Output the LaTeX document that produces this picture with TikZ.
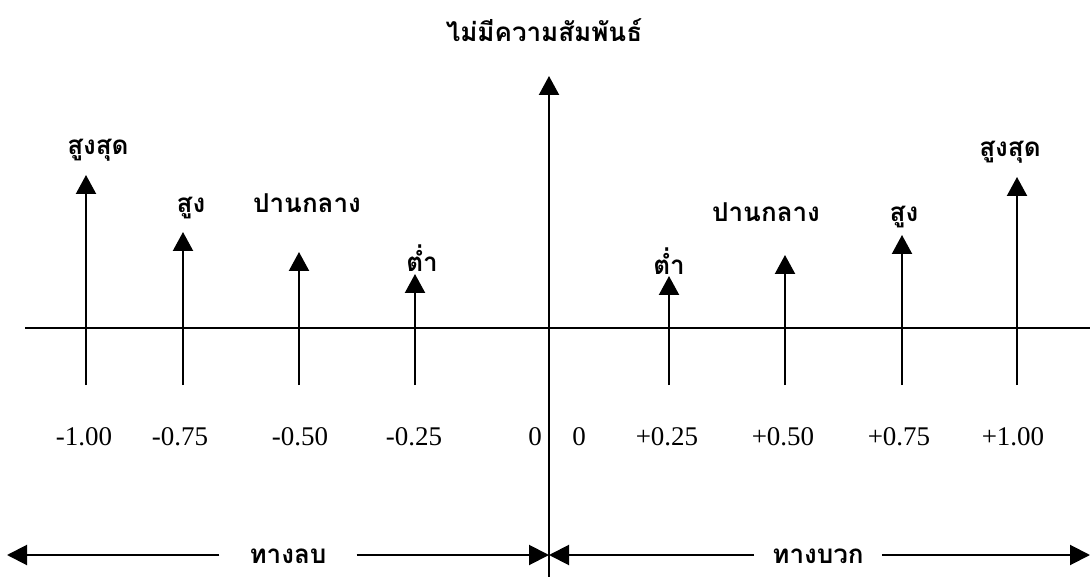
\documentclass[tikz,border=0pt]{standalone}
\usepackage{fontspec}
\setmainfont{Liberation Serif}
\newfontfamily\thaifont[Script=Thai]{Loma}
\usepackage{tikz}
\usetikzlibrary{arrows.meta, positioning}

\begin{document}
\begin{tikzpicture}[
  x=1pt, y=-1pt,
  axisline/.style={line width=2pt},
  stem/.style={line width=2.2pt, -{Triangle[width=20pt, length=19pt]}},
  bothway/.style={line width=2pt, -{Triangle[width=20pt, length=20pt]}},
  strength/.style={anchor=base, inner sep=0pt, font=\thaifont\bfseries\fontsize{26}{30}\selectfont},
  corr/.style={anchor=base, inner sep=0pt, font=\fontsize{27}{31}\selectfont},
  side/.style={anchor=base, inner sep=0pt, text depth=0pt, font=\thaifont\bfseries\fontsize{26}{30}\selectfont}
]
\useasboundingbox (0,0) rectangle (1090,577);

% axes
\coordinate (xl) at (25,328);
\coordinate (xr) at (1090,328);
\coordinate (yb) at (549,577);
\coordinate (yt) at (549,76);
\draw[axisline] (xl) -- (xr);
\draw[stem] (yb) -- (yt);
\node[strength] (title) at (544,42) {ไม่มีความสัมพันธ์};

% negative side
\coordinate (b100) at (86,385);   \coordinate (t100) at (86,175);
\coordinate (b75) at (183,385);   \coordinate (t75) at (183,232);
\coordinate (b50) at (299,385);   \coordinate (t50) at (299,252);
\coordinate (b25) at (415,385);   \coordinate (t25) at (415,274);
\draw[stem] (b100) -- (t100);
\draw[stem] (b75) -- (t75);
\draw[stem] (b50) -- (t50);
\draw[stem] (b25) -- (t25);
\node[strength] (s100) at (98,155) {สูงสุด};
\node[strength] (s75) at (191,213) {สูง};
\node[strength] (s50) at (307,213) {ปานกลาง};
\node[strength] (s25) at (422,272) {ต่ำ};

% positive side
\coordinate (pb25) at (669,385);  \coordinate (pt25) at (669,276);
\coordinate (pb50) at (785,385);  \coordinate (pt50) at (785,255);
\coordinate (pb75) at (902,385);  \coordinate (pt75) at (902,235);
\coordinate (pb100) at (1017,385); \coordinate (pt100) at (1017,177);
\draw[stem] (pb25) -- (pt25);
\draw[stem] (pb50) -- (pt50);
\draw[stem] (pb75) -- (pt75);
\draw[stem] (pb100) -- (pt100);
\node[strength] (ps25) at (669,275) {ต่ำ};
\node[strength] (ps50) at (766,222) {ปานกลาง};
\node[strength] (ps75) at (904,222) {สูง};
\node[strength] (ps100) at (1010,157) {สูงสุด};

% values
\node[corr] (n100) at (84,445) {-1.00};
\node[corr] (n75) at (180,445) {-0.75};
\node[corr] (n50) at (300,445) {-0.50};
\node[corr] (n25) at (414,445) {-0.25};
\node[corr] (nzero) at (535,445) {0};
\node[corr] (pzero) at (579,445) {0};
\node[corr] (p25) at (667,445) {+0.25};
\node[corr] (p50) at (783,445) {+0.50};
\node[corr] (p75) at (899,445) {+0.75};
\node[corr] (p100) at (1013,445) {+1.00};

% direction
\coordinate (far left) at (7,555);
\coordinate (mid) at (549,555);
\coordinate (far right) at (1090,555);
\node[side, inner xsep=30pt] (neg) at (288,563) {ทางลบ};
\node[side, inner xsep=18pt] (pos) at (818,563) {ทางบวก};
\draw[bothway] (neg.west |- far left) -- (far left);
\draw[bothway] (neg.east |- mid) -- (mid);
\draw[bothway] (pos.west |- mid) -- (mid);
\draw[bothway] (pos.east |- far right) -- (far right);
\end{tikzpicture}
\end{document}
